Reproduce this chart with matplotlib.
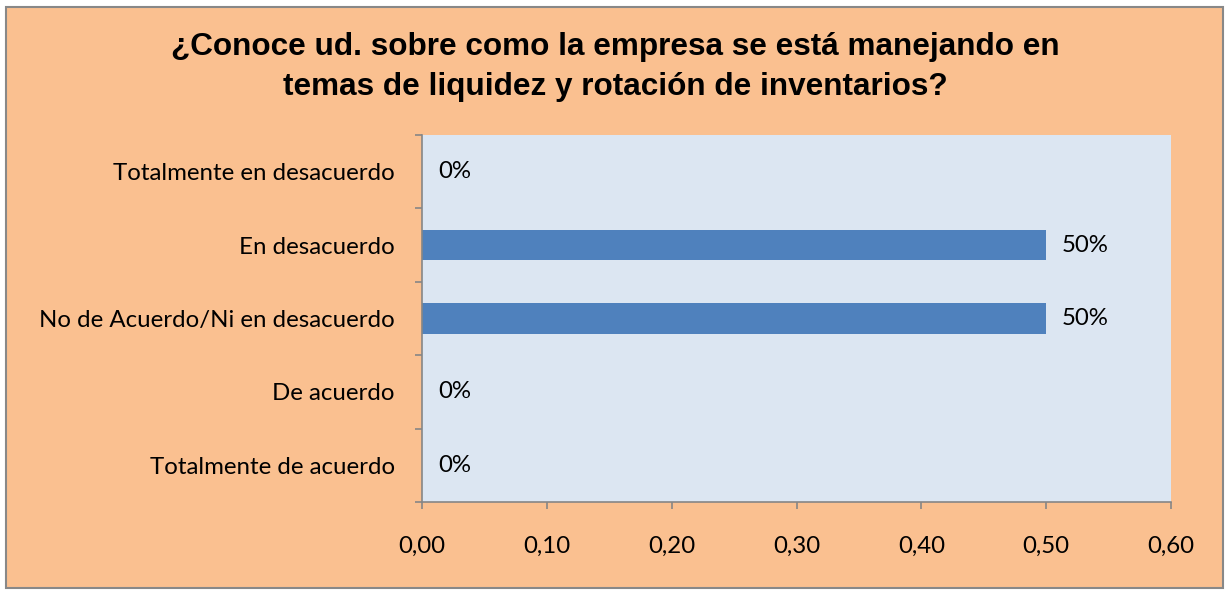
import matplotlib
matplotlib.use("Agg")
import matplotlib.pyplot as plt
from matplotlib.patches import Rectangle

categories = ["Totalmente de acuerdo", "De acuerdo", "No de Acuerdo/Ni en desacuerdo",
              "En desacuerdo", "Totalmente en desacuerdo"]
values = [0.0, 0.0, 0.5, 0.5, 0.0]
value_labels = ["0%", "0%", "50%", "50%", "0%"]
xticks = [0.0, 0.1, 0.2, 0.3, 0.4, 0.5, 0.6]
xtick_labels = ["0,00", "0,10", "0,20", "0,30", "0,40", "0,50", "0,60"]
title = "¿Conoce ud. sobre como la empresa se está manejando en\ntemas de liquidez y rotación de inventarios?"

W, H = 1227, 590
fig = plt.figure(figsize=(W / 100, H / 100), dpi=100, facecolor="white")

# outer chart area
fig.patches.append(Rectangle((6 / W, 2 / H), 1217 / W, 581 / H, transform=fig.transFigure,
                             facecolor="#FAC090", edgecolor="#888888", linewidth=1.5, zorder=-10))

ax = fig.add_axes([422 / W, 1 - 502 / H, (1171 - 422) / W, (502 - 135) / H])
ax.set_zorder(5)
ax.set_facecolor("#DCE6F2")

FS = 17.3
y = list(range(len(categories)))
ax.barh(y, values, height=0.41, color="#4F81BD", zorder=2)
ax.set_ylim(-0.5, len(categories) - 0.5)
ax.set_xlim(0, 0.6)

for yi, v, lab in zip(y, values, value_labels):
    ax.annotate(lab, (v, yi), xytext=(16, 0), textcoords="offset pixels",
                va="center", ha="left", fontsize=FS, family="Lato", color="black")

ax.set_xticks(xticks)
ax.set_xticklabels(xtick_labels, fontsize=FS, family="Lato")
ax.set_yticks([i - 0.5 for i in range(len(categories) + 1)])
ax.set_yticklabels([])
ax.set_yticks(y, minor=True)
ax.set_yticklabels(categories, minor=True, fontsize=FS, family="Lato")
ax.tick_params(axis="y", which="minor", length=0, pad=19.5)
ax.tick_params(axis="y", which="major", length=5.2, color="#868686", width=1.2)
ax.tick_params(axis="x", length=5.2, color="#868686", width=1.2, pad=19)

for side in ["top", "right"]:
    ax.spines[side].set_visible(False)
for side in ["left", "bottom"]:
    ax.spines[side].set_color("#868686")
    ax.spines[side].set_linewidth(1.2)

fig.text(615 / W, 1 - 67 / H, title, ha="center", va="center", fontsize=22.7,
         fontweight="bold", family="Liberation Sans", linespacing=1.42)

fig.savefig("out.png", dpi=100, facecolor="white")
